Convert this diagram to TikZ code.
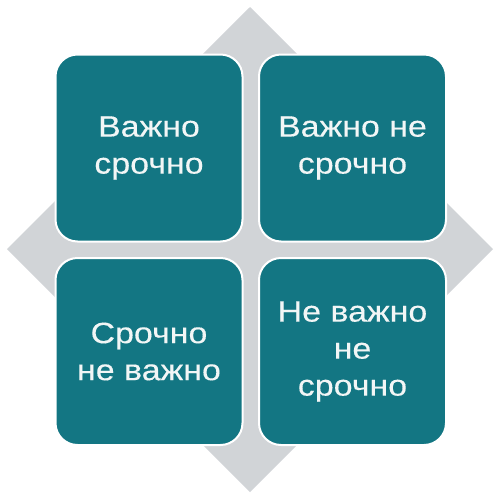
\documentclass[tikz,border=0pt]{standalone}
\usepackage{fontspec}
\setmainfont{Liberation Sans}[FakeStretch=1.15,FakeBold=0.3]
\definecolor{teal1}{HTML}{137683}
\definecolor{grey1}{HTML}{D1D4D7}
\definecolor{txt}{HTML}{F2F6F6}
\begin{document}
\begin{tikzpicture}[x=1pt,y=-1pt,
  quad/.style={fill=teal1, draw=white, line width=2pt, rounded corners=22pt,
    minimum width=187pt, minimum height=187pt, inner sep=0pt, align=center,
    text=txt, font=\fontsize{29.5}{37}\selectfont}]
\useasboundingbox (0,0) rectangle (499,496);
\fill[grey1] (250,7) -- (493,249) -- (250,492) -- (7,249) -- cycle;
\node[quad] (tl) at (149,148) {Важно\\срочно};
\node[quad] (tr) at (352.5,148) {Важно не\\срочно};
\node[quad] (bl) at (149,351.5) {Срочно\\не важно};
\node[quad] (br) at (352.5,351.5) {Не важно\\не\\срочно};
\end{tikzpicture}
\end{document}
